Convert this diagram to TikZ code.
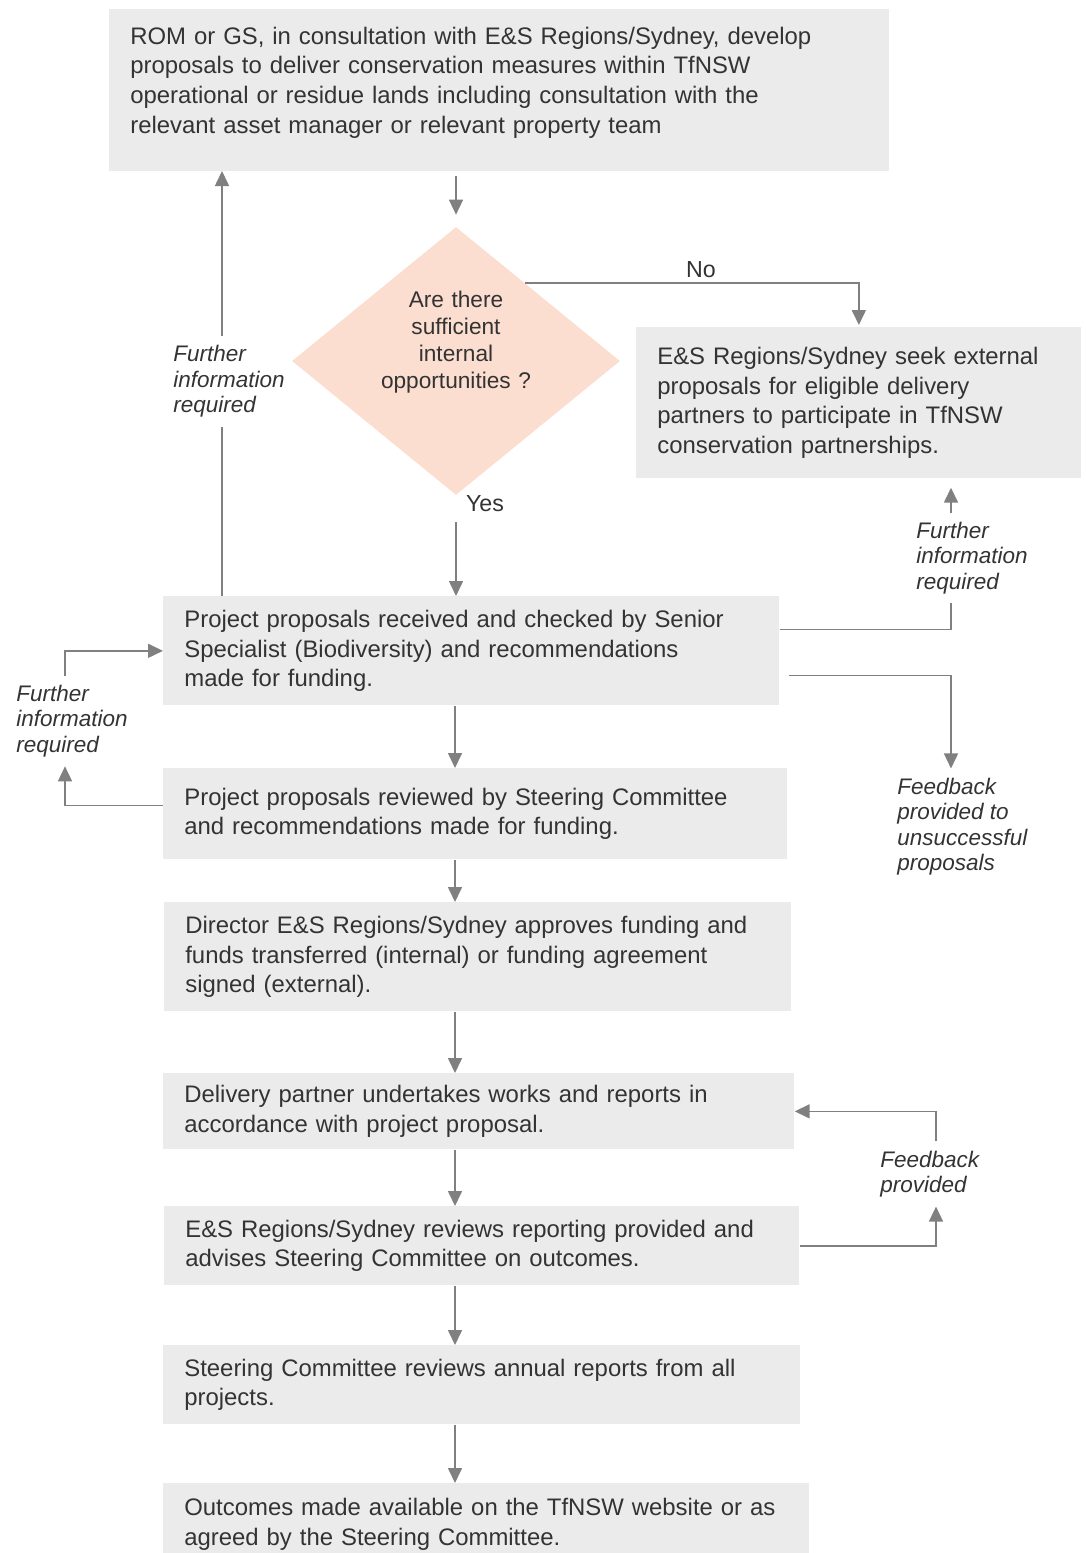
\documentclass[tikz,border=0pt]{standalone}
\usepackage{fontspec}
\setmainfont{Liberation Sans}
\usepackage{tikz}
\usetikzlibrary{shapes,arrows.meta,positioning,calc}
\definecolor{boxGrey}{RGB}{235,235,235}
\definecolor{decisionPeach}{RGB}{252,222,209}
\definecolor{lineGrey}{RGB}{128,128,128}
\definecolor{textGrey}{RGB}{51,51,51}

\begin{document}
\begin{tikzpicture}[
    bx/.style={fill=boxGrey, anchor=north west, inner xsep=0.42cm, inner ysep=0pt,
               align=left, text=textGrey, font=\fontsize{13.6}{17.0}\selectfont},
    lbl/.style={anchor=west, inner xsep=0pt, inner ysep=0.18cm, align=left,
                text=textGrey, font=\fontsize{12.8}{14.5}\selectfont\itshape},
    yn/.style={text=textGrey, inner sep=0pt, font=\fontsize{13.2}{15}\selectfont},
    arr/.style={-{Triangle[length=0.3cm,width=0.28cm]}, draw=lineGrey, line width=0.032cm},
    ln/.style={draw=lineGrey, line width=0.032cm}
  ]
  \useasboundingbox (0,0) rectangle (21.72,-31.06);
  % Top box
  \node[bx, text width=14.76cm, minimum height=3.24cm, text depth=2.2cm] (dev) at (2.18,-0.18)
    {ROM or GS, in consultation with E\&S Regions/Sydney, develop\\
     proposals to deliver conservation measures within TfNSW\\
     operational or residue lands including consultation with the\\
     relevant asset manager or relevant property team};
  % Decision
  \node[diamond, fill=decisionPeach, minimum width=6.56cm, minimum height=5.36cm,
        aspect=1.22, inner sep=0pt, align=center, text width=3.0cm, text depth=2.45cm,
        text=textGrey, font=\fontsize{12.9}{15.3}\selectfont] (q) at (9.12,-7.22)
    {Are there\\sufficient\\internal\\opportunities ?};
  \draw[arr, shorten <=0.08cm, shorten >=0.24cm] (dev.south -| q.north) -- (q.north);
  % External proposals
  \node[bx, text width=8.06cm, minimum height=3.02cm] (ext) at (12.72,-6.54)
    {E\&S Regions/Sydney seek external\\
     proposals for eligible delivery\\
     partners to participate in TfNSW\\
     conservation partnerships.};
  \coordinate (noStart) at ($(q.north)!0.42!(q.east)$);
  \draw[arr, shorten >=0.04cm] (noStart) -| (ext.north);
  \node[yn] (no) at (14.02,-5.40) {No};
  % Checked by Senior Specialist
  \node[bx, text width=11.48cm, minimum height=2.18cm] (check) at (3.26,-11.92)
    {Project proposals received and checked by Senior\\
     Specialist (Biodiversity) and recommendations\\
     made for funding.};
  \node[yn] (yes) at (9.70,-10.08) {Yes};
  \draw[arr, shorten <=0.54cm] (q.south) -- (check.north -| q.south);
  % Loop back to top box
  \node[lbl] (fiA) at (3.46,-7.63) {Further\\information\\required};
  \coordinate (upL) at (4.44,-3.42);
  \draw[ln] (check.north -| upL) -- (fiA.south -| upL);
  \draw[arr] (fiA.north -| upL) -- (upL);
  % Loop back to external proposals
  \coordinate (rx) at (19.02,0);
  \node[lbl] (fiB) at (18.32,-11.16) {Further\\information\\required};
  \draw[ln] ($(check.east)+(0,0.43)$) -| (fiB.south -| rx);
  \draw[arr, shorten >=0.18cm] (fiB.north -| rx) -- (ext.south -| rx);
  % Unsuccessful proposals
  \node[lbl] (fbU) at (17.94,-16.53) {Feedback\\provided to\\unsuccessful\\proposals};
  \draw[arr, shorten <=0.18cm] ($(check.east)+(0,-0.49)$) -| (fbU.north -| rx);
  % Steering Committee review
  \node[bx, text width=11.64cm, minimum height=1.82cm] (steer) at (3.26,-15.36)
    {Project proposals reviewed by Steering Committee\\
     and recommendations made for funding.};
  \coordinate (mx) at (9.10,0);
  \draw[arr] (check.south -| mx) -- (steer.north -| mx);
  % Loop back to Senior Specialist
  \coordinate (lx) at (1.30,0);
  \node[lbl] (fiC) at (0.32,-14.42) {Further\\information\\required};
  \draw[arr] ($(steer.west)+(0,0.17)$) -| (fiC.south -| lx);
  \draw[arr] (fiC.north -| lx) |- (check.west);
  % Director approval
  \node[bx, text width=11.70cm, minimum height=2.18cm] (approve) at (3.28,-18.04)
    {Director E\&S Regions/Sydney approves funding and\\
     funds transferred (internal) or funding agreement\\
     signed (external).};
  \draw[arr] (steer.south -| mx) -- (approve.north -| mx);
  % Works delivery
  \node[bx, text width=11.78cm, minimum height=1.52cm] (works) at (3.26,-21.46)
    {Delivery partner undertakes works and reports in\\
     accordance with project proposal.};
  \draw[arr] (approve.south -| mx) -- (works.north -| mx);
  % Reporting review
  \node[bx, text width=11.86cm, minimum height=1.58cm] (report) at (3.28,-24.12)
    {E\&S Regions/Sydney reviews reporting provided and\\
     advises Steering Committee on outcomes.};
  \draw[arr] (works.south -| mx) -- (report.north -| mx);
  % Feedback loop
  \coordinate (rx2) at (18.72,0);
  \node[lbl] (fbP) at (17.60,-23.48) {Feedback\\provided};
  \draw[arr] (report.east) -| (fbP.south -| rx2);
  \draw[arr] (fbP.north -| rx2) |- (works.east);
  % Annual reports
  \node[bx, text width=11.90cm, minimum height=1.58cm] (annual) at (3.26,-26.90)
    {Steering Committee reviews annual reports from all\\
     projects.};
  \draw[arr] (report.south -| mx) -- (annual.north -| mx);
  % Outcomes
  \node[bx, text width=12.08cm, minimum height=1.64cm] (publish) at (3.26,-29.66)
    {Outcomes made available on the TfNSW website or as\\
     agreed by the Steering Committee.};
  \draw[arr] (annual.south -| mx) -- (publish.north -| mx);
\end{tikzpicture}
\end{document}
